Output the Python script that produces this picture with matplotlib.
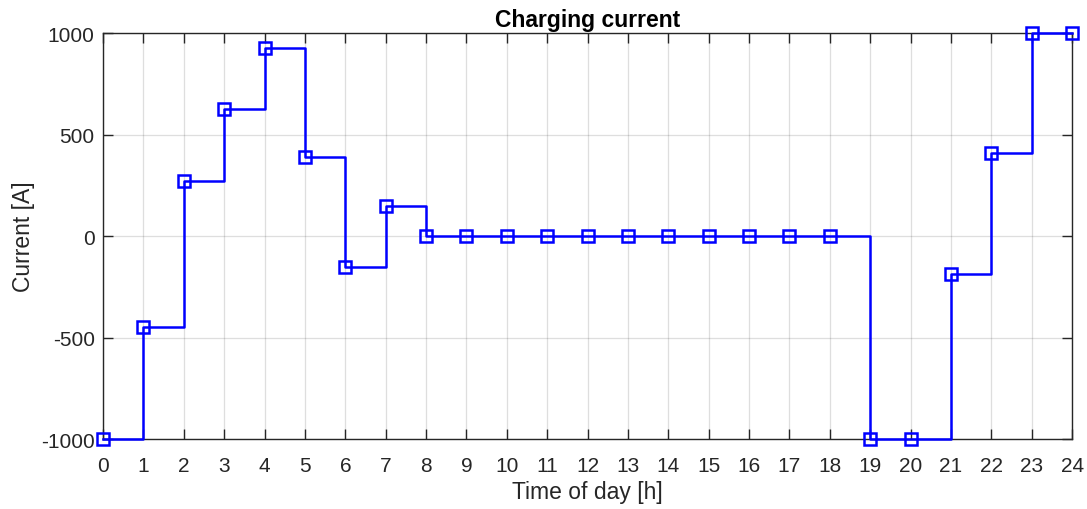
import matplotlib.pyplot as plt

plt.rcParams['font.family'] = ['Liberation Sans', 'DejaVu Sans']
plt.rcParams['axes.unicode_minus'] = False

hours = list(range(25))
current = [-1000, -450, 270, 625, 925, 390, -150, 150, 0, 0, 0, 0, 0, 0, 0,
           0, 0, 0, 0, -1000, -1000, -185, 412, 1000, 1000]
xticks = list(range(25))
yticks = [-1000, -500, 0, 500, 1000]

axis_color = (0.15, 0.15, 0.15)

fig = plt.figure(figsize=(10.87, 5.10), dpi=100)
ax = fig.add_axes([0.0948, 0.137, 0.8915, 0.796])

ax.plot(hours, current, drawstyle='steps-post', color='#0000ff', lw=1.8,
        marker='s', markersize=9, markerfacecolor='none',
        markeredgecolor='#0000ff', markeredgewidth=1.8, clip_on=False, zorder=3)

ax.set_xlim(0, 24)
ax.set_ylim(-1000, 1000)
ax.set_xticks(xticks)
ax.set_yticks(yticks)
ax.grid(True, color=(0.15, 0.15, 0.15), alpha=0.15, lw=0.9)
ax.tick_params(direction='in', length=7, width=1, colors=axis_color,
               top=True, right=True, labelsize=15)
ax.tick_params(axis='x', pad=12)
ax.tick_params(axis='y', pad=6)
for s in ax.spines.values():
    s.set_color(axis_color)
    s.set_linewidth(1)

ax.set_title('Charging current', fontsize=16.5, fontweight='bold', color='black', pad=5)
ax.set_xlabel('Time of day [h]', fontsize=16.5, color=axis_color, labelpad=4)
ax.set_ylabel('Current [A]', fontsize=16.5, color=axis_color, labelpad=4)

fig.savefig('out.png', dpi=100)
